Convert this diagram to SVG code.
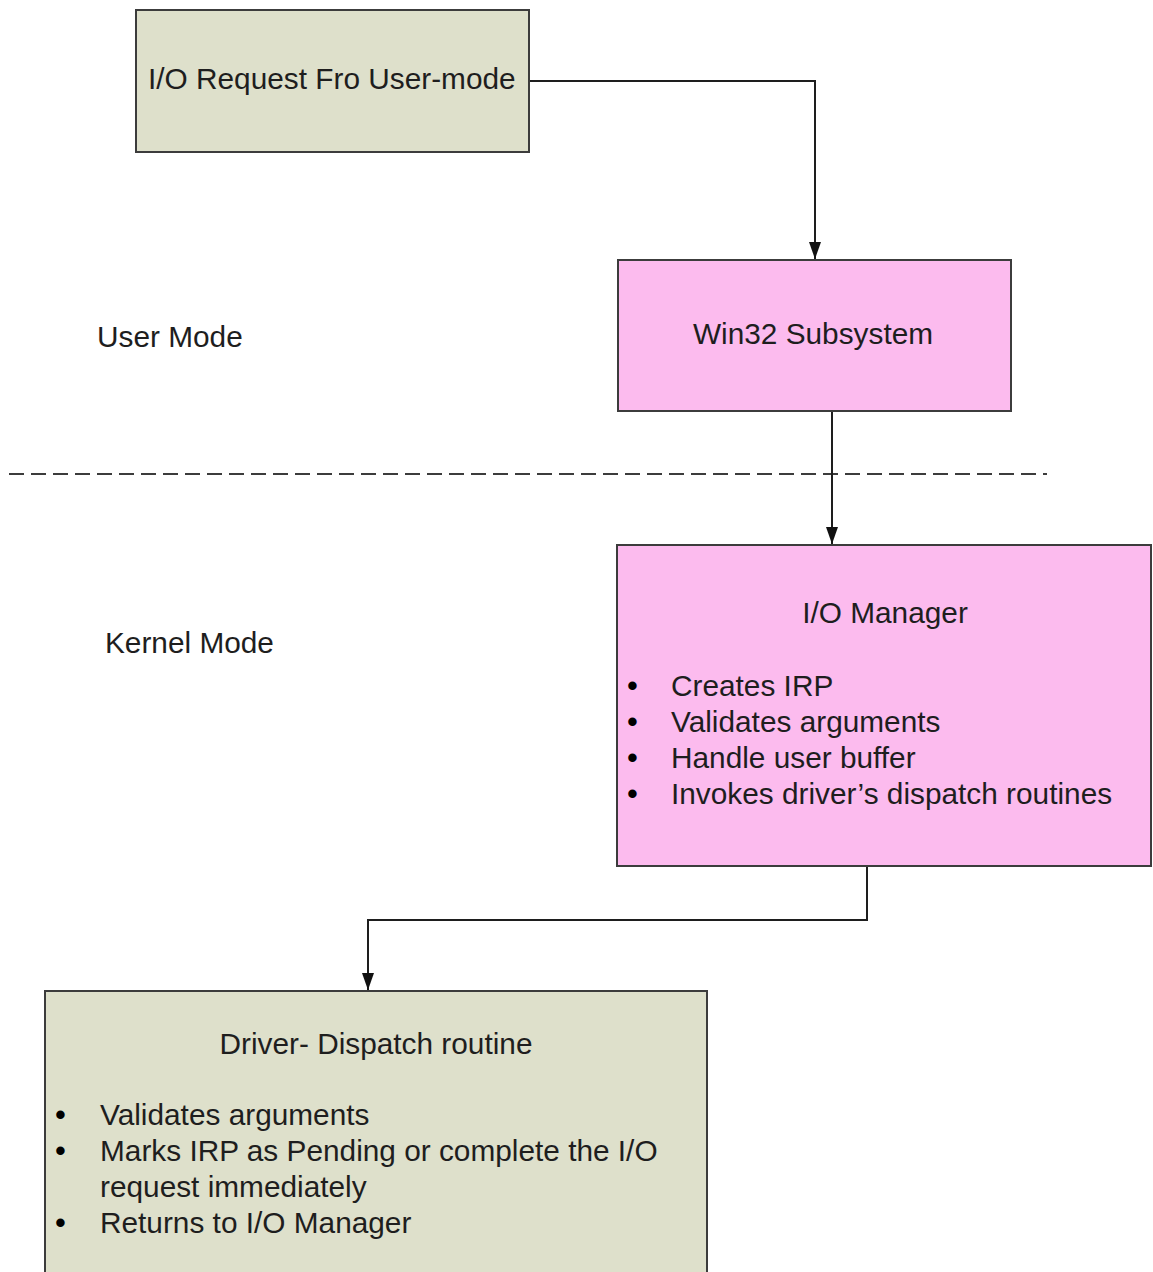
<svg xmlns="http://www.w3.org/2000/svg" width="1153" height="1272" viewBox="0 0 1153 1272">
  <style>
    .box { stroke: #3c3c3c; stroke-width: 2; }
    .khaki { fill: #dee0cb; }
    .pink { fill: #fcbbee; }
    text { font-family: "Liberation Sans", Arial, sans-serif; font-size: 29.8px; fill: #1e1e1e; }
    .mid { text-anchor: middle; }
    .dot { font-size: 31px; fill: #000; }
    .edge { fill: none; stroke: #1e1e1e; stroke-width: 2; }
    .divider { fill: none; stroke: #3c3c3c; stroke-width: 2; stroke-dasharray: 15 7; }
  </style>
  <defs>
    <marker id="arrow" markerUnits="userSpaceOnUse" markerWidth="17" markerHeight="12" refX="17" refY="6" orient="auto" viewBox="0 0 17 12">
      <path d="M0,0 L17,6 L0,12 Z" fill="#111"/>
    </marker>
  </defs>

  <rect width="1153" height="1272" fill="#ffffff"/>

  <!-- user / kernel boundary -->
  <line class="divider" x1="9" y1="474" x2="1047" y2="474"/>

  <text id="label-user" x="97" y="347">User Mode</text>
  <text id="label-kernel" x="105" y="653">Kernel Mode</text>

  <g id="connectors">
    <path class="edge" d="M529,81 H815 V259" marker-end="url(#arrow)"/>
    <path class="edge" d="M832,411 V544" marker-end="url(#arrow)"/>
    <path class="edge" d="M867,866 V920 H368 V990" marker-end="url(#arrow)"/>
  </g>

  <g id="node-request">
    <rect class="box khaki" x="136" y="10" width="393" height="142"/>
    <text x="148" y="89">I/O Request Fro User-mode</text>
  </g>

  <g id="node-win32">
    <rect class="box pink" x="618" y="260" width="393" height="151"/>
    <text class="mid" x="813" y="344">Win32 Subsystem</text>
  </g>

  <g id="node-iomanager">
    <rect class="box pink" x="617" y="545" width="534" height="321"/>
    <text class="mid" x="885" y="623">I/O Manager</text>
    <text y="696"><tspan class="dot" x="627">•</tspan><tspan x="671">Creates IRP</tspan></text>
    <text y="732"><tspan class="dot" x="627">•</tspan><tspan x="671">Validates arguments</tspan></text>
    <text y="768"><tspan class="dot" x="627">•</tspan><tspan x="671">Handle user buffer</tspan></text>
    <text y="804"><tspan class="dot" x="627">•</tspan><tspan x="671">Invokes driver’s dispatch routines</tspan></text>
  </g>

  <g id="node-dispatch">
    <rect class="box khaki" x="45" y="991" width="662" height="300"/>
    <text class="mid" x="376" y="1054">Driver- Dispatch routine</text>
    <text y="1125"><tspan class="dot" x="55">•</tspan><tspan x="100">Validates arguments</tspan></text>
    <text y="1161"><tspan class="dot" x="55">•</tspan><tspan x="100">Marks IRP as Pending or complete the I/O</tspan></text>
    <text x="100" y="1197">request immediately</text>
    <text y="1233"><tspan class="dot" x="55">•</tspan><tspan x="100">Returns to I/O Manager</tspan></text>
  </g>
</svg>
